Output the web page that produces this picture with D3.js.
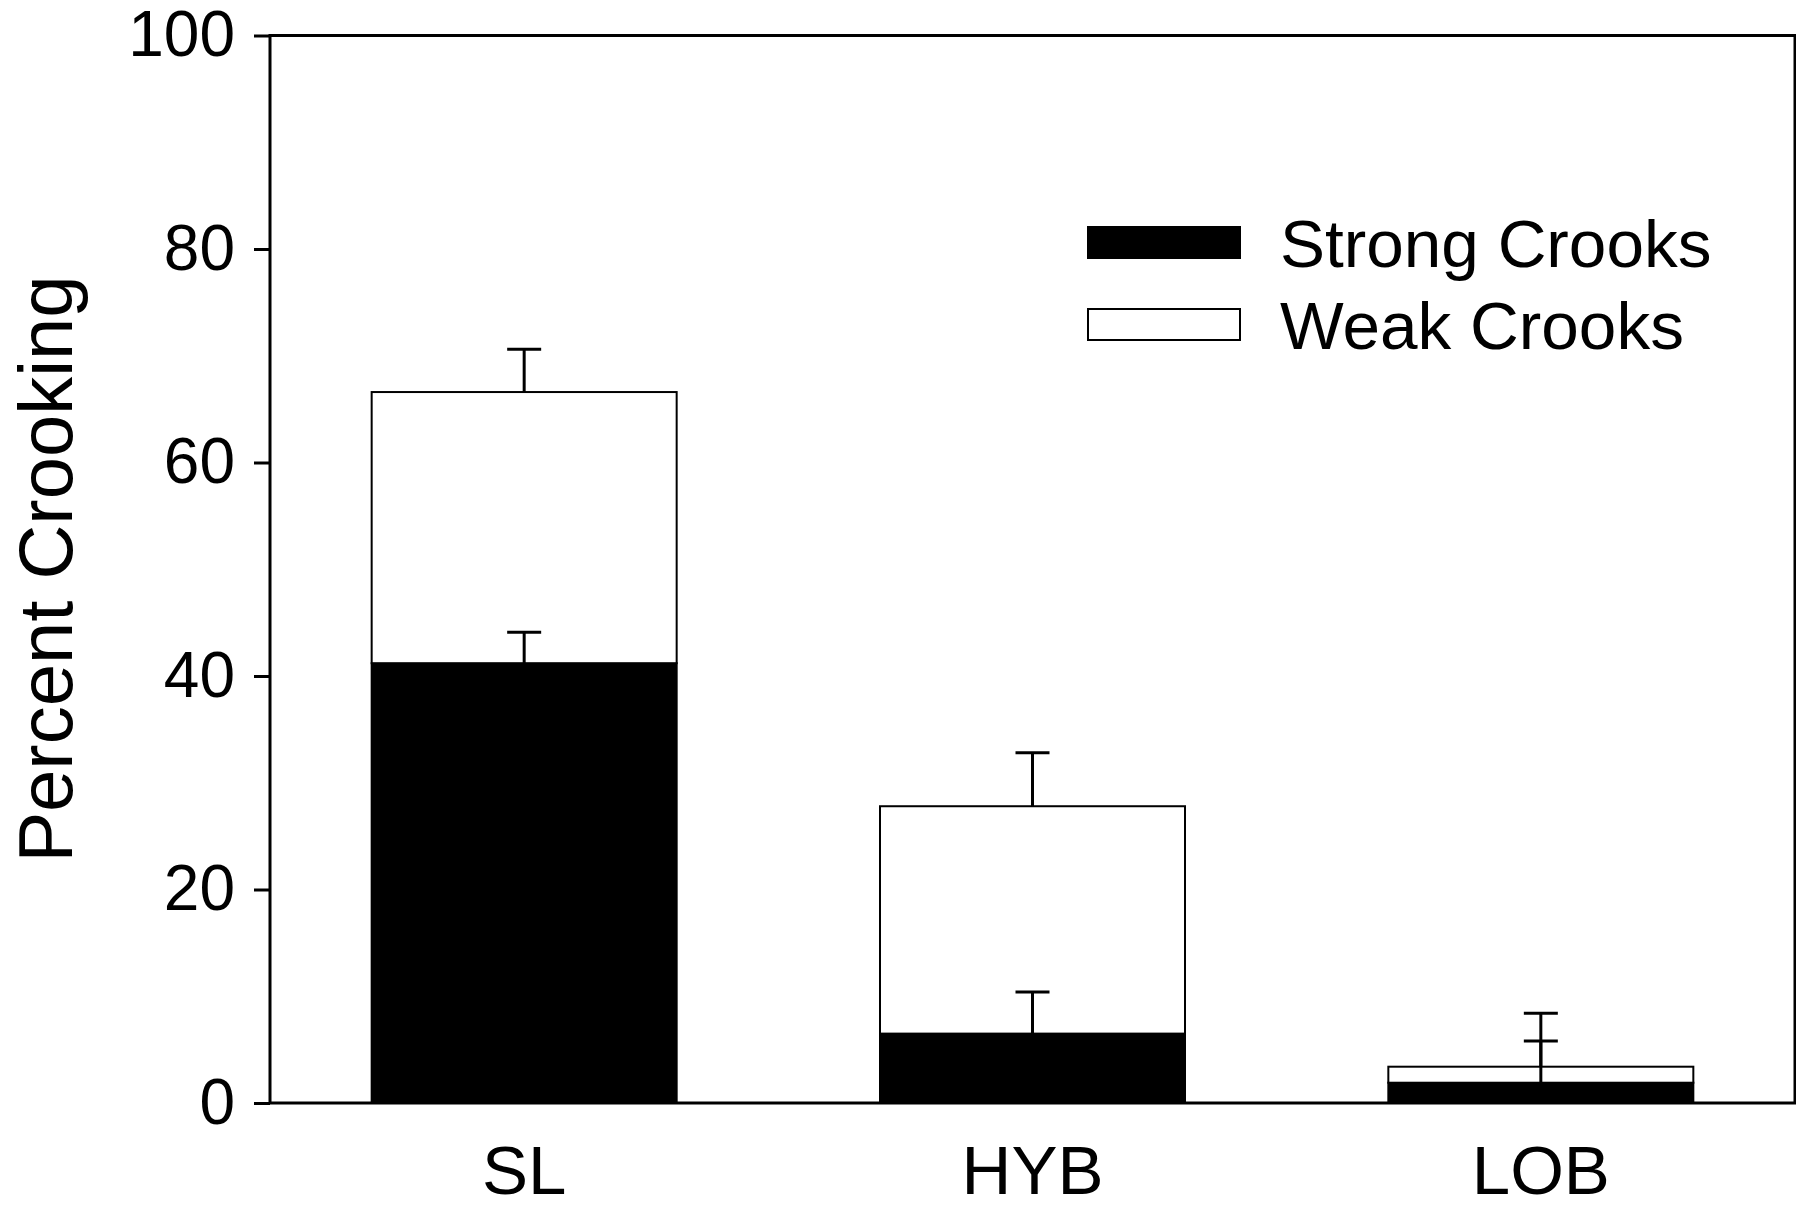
<!DOCTYPE html>
<html>
<head>
<meta charset="utf-8">
<script src="https://cdn.jsdelivr.net/npm/d3@7"></script>
<style>
  html, body { margin: 0; padding: 0; background: #fff; }
  svg { display: block; font-family: "Liberation Sans", Arial, sans-serif; }
</style>
</head>
<body>
<svg id="chart" width="1796" height="1207"></svg>
<script>
const categories = ["SL", "HYB", "LOB"];
const strongValues = [41.2, 6.5, 1.9];
const weakValues = [25.4, 21.3, 1.5];
const strongErrors = [2.9, 3.9, 3.9];
const totalErrors = [4.0, 5.0, 5.0];
const yTicks = [0, 20, 40, 60, 80, 100];
const seriesNames = ["Strong Crooks", "Weak Crooks"];
const yTitle = "Percent Crooking";

const svg = d3.select("#chart");
const margin = { left: 270, right: 1795, top: 35.5, bottom: 1103 };

const x = d3.scaleBand().domain(categories)
  .range([margin.left, margin.right])
  .paddingInner(0.4).paddingOuter(0.2);
const y = d3.scaleLinear().domain([0, 100]).range([margin.bottom, margin.top]);

const rows = categories.map((c, i) => ({ cat: c, strong: strongValues[i], weak: weakValues[i], se: strongErrors[i], te: totalErrors[i] }));
const stack = d3.stack().keys(["strong", "weak"])(rows);

// bars
const fills = { strong: "#000", weak: "#fff" };
stack.forEach(layer => {
  svg.append("g").selectAll("rect").data(layer).join("rect")
    .attr("x", d => x(d.data.cat))
    .attr("width", x.bandwidth())
    .attr("y", d => y(d[1]))
    .attr("height", d => y(d[0]) - y(d[1]))
    .attr("fill", fills[layer.key])
    .attr("stroke", "#000")
    .attr("stroke-width", 2);
});

// error bars
const errG = svg.append("g").attr("stroke", "#000").attr("stroke-width", 3).attr("fill", "none");
const capHalf = 17;
rows.forEach(r => {
  const cx = x(r.cat) + x.bandwidth() / 2;
  const pairs = [[r.strong, r.strong + r.se], [r.strong + r.weak, r.strong + r.weak + r.te]];
  pairs.forEach(([v0, v1]) => {
    errG.append("line").attr("x1", cx).attr("x2", cx).attr("y1", y(v0)).attr("y2", y(v1));
    errG.append("line").attr("x1", cx - capHalf).attr("x2", cx + capHalf).attr("y1", y(v1)).attr("y2", y(v1));
  });
});

// frame
svg.append("rect")
  .attr("x", margin.left).attr("y", margin.top)
  .attr("width", margin.right - margin.left).attr("height", margin.bottom - margin.top)
  .attr("fill", "none").attr("stroke", "#000").attr("stroke-width", 3);

// y axis
const yAxis = svg.append("g").attr("transform", `translate(${margin.left},0)`)
  .call(d3.axisLeft(y).tickValues(yTicks).tickSize(16).tickPadding(19).tickFormat(d3.format("d")));
yAxis.select(".domain").remove();
yAxis.selectAll(".tick line").attr("stroke", "#000").attr("stroke-width", 3);
yAxis.selectAll(".tick text").attr("font-size", 64).attr("fill", "#000")
  .attr("font-family", "Liberation Sans, Arial, sans-serif");

// x labels
const xAxis = svg.append("g").attr("transform", `translate(0,${margin.bottom})`)
  .call(d3.axisBottom(x).tickSize(0).tickPadding(0));
xAxis.select(".domain").remove();
xAxis.selectAll(".tick text").attr("font-size", 69).attr("fill", "#000")
  .attr("font-family", "Liberation Sans, Arial, sans-serif")
  .attr("dy", null).attr("y", 91);

// y title
svg.append("text")
  .attr("transform", `translate(72,569) rotate(-90)`)
  .attr("text-anchor", "middle")
  .attr("font-size", 76)
  .text(yTitle);

// legend
const legend = svg.append("g");
const legendY = [227, 309];
seriesNames.forEach((name, i) => {
  legend.append("rect")
    .attr("x", 1088).attr("y", legendY[i])
    .attr("width", 152).attr("height", 31)
    .attr("fill", i === 0 ? "#000" : "#fff")
    .attr("stroke", "#000").attr("stroke-width", 2);
  legend.append("text")
    .attr("x", 1280).attr("y", legendY[i] + 40)
    .attr("font-size", 67.5)
    .text(name);
});
</script>
</body>
</html>
